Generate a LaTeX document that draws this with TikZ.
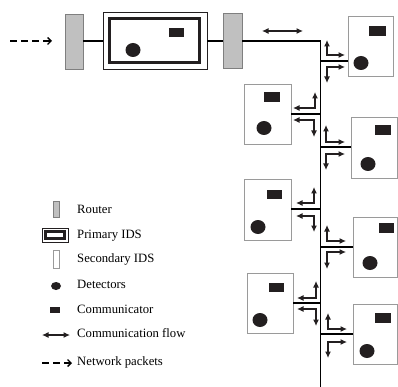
\documentclass[tikz,border=0pt]{standalone}
\usepackage{fontspec}
\setmainfont{Liberation Serif}
\usetikzlibrary{arrows.meta}
\definecolor{rgray}{HTML}{C0C0C0}
\definecolor{rborder}{HTML}{7F7F7F}
\definecolor{sborder}{HTML}{9A9A9A}
\definecolor{ink}{HTML}{231F20}
\tikzset{
  box/.style={rectangle, inner sep=0pt, outer sep=0pt},
  router/.style={box, draw=rborder, fill=rgray, line width=0.9pt},
  sids/.style={box, draw=sborder, fill=white, line width=0.9pt},
  pouter/.style={box, draw=ink, line width=0.8pt},
  pinner/.style={box, draw=ink, line width=3pt},
  comm/.style={box, fill=ink},
  det/.style={ellipse, fill=ink, inner sep=0pt, outer sep=0pt},
  wire/.style={draw=black, line width=1.1pt},
  larrow/.style={draw=ink, line width=1.1pt, {Latex[length=6.5pt,width=6pt]}-{Latex[length=6.5pt,width=6pt]}},
  packet/.style={draw=black, line width=1.5pt, dash pattern=on 6.5pt off 4.5pt, -{Straight Barb[length=3.5pt,width=7pt,line width=1.3pt]}},
  lab/.style={anchor=mid west, inner sep=0pt, font=\fontsize{12.7}{14}\selectfont},
}
\usetikzlibrary{shapes.geometric}
\begin{document}
\begin{tikzpicture}[x=1pt,y=-1pt]
\useasboundingbox (0,0) rectangle (398,387);
% top chain
\coordinate (pin) at (10,41);
\coordinate (pend) at (52,41);
\draw[packet] (pin) -- (pend);
\node[router, minimum width=18pt, minimum height=55pt] (r1) at (74,41.5) {};
\node[pouter, minimum width=104pt, minimum height=57pt] (pids) at (155,40.5) {};
\node[pinner, minimum width=90pt, minimum height=44pt] (pidsin) at (154.5,40.5) {};
\node[comm, minimum width=15pt, minimum height=9pt] (pc) at (176.5,32.5) {};
\node[det, minimum width=15pt, minimum height=14pt] (pd) at (133,50) {};
\node[router, minimum width=19pt, minimum height=55pt] (r2) at (232.5,40.5) {};
\coordinate (bustop) at (320.5,41);
\coordinate (busbot) at (320.5,387);
\draw[wire] (r1.east |- pin) -- (pids.west |- pin);
\draw[wire] (pids.east |- pin) -- (r2.west |- pin);
\draw[wire] (r2.east |- bustop) -- (bustop) -- (busbot);
\coordinate (fa) at (262,31);
\coordinate (fb) at (303,31);
\draw[larrow] (fa) -- (fb);
% secondary IDS boxes
\node[sids, minimum width=45pt, minimum height=60pt] (s1) at (370.5,46) {};
\node[comm, minimum width=17pt, minimum height=10pt] (c1) at (377.5,31) {};
\node[det, minimum width=15pt, minimum height=14pt] (d1) at (361,63) {};
\node[sids, minimum width=47pt, minimum height=60pt] (s2) at (267.5,114) {};
\node[comm, minimum width=16pt, minimum height=10pt] (c2) at (272,97) {};
\node[det, minimum width=15pt, minimum height=14pt] (d2) at (264,128) {};
\node[sids, minimum width=46pt, minimum height=61pt] (s3) at (374,147.5) {};
\node[comm, minimum width=16pt, minimum height=10pt] (c3) at (383,130) {};
\node[det, minimum width=15pt, minimum height=14pt] (d3) at (368,164) {};
\node[sids, minimum width=47pt, minimum height=61pt] (s4) at (267.5,209.5) {};
\node[comm, minimum width=15pt, minimum height=9pt] (c4) at (274.5,194.5) {};
\node[det, minimum width=15pt, minimum height=14pt] (d4) at (258,227) {};
\node[sids, minimum width=44pt, minimum height=60pt] (s5) at (375,247) {};
\node[comm, minimum width=15pt, minimum height=10pt] (c5) at (386.5,228) {};
\node[det, minimum width=15pt, minimum height=14pt] (d5) at (370,263) {};
\node[sids, minimum width=46pt, minimum height=60pt] (s6) at (270,303) {};
\node[comm, minimum width=15pt, minimum height=9pt] (c6) at (276.5,287.5) {};
\node[det, minimum width=15pt, minimum height=14pt] (d6) at (260,320) {};
\node[sids, minimum width=44pt, minimum height=60pt] (s7) at (375,334) {};
\node[comm, minimum width=16pt, minimum height=10pt] (c7) at (383,318) {};
\node[det, minimum width=15pt, minimum height=14pt] (d7) at (367,351) {};
% taps to bus
\coordinate (h1) at (0,61);
\coordinate (h2) at (0,114);
\coordinate (h3) at (0,147);
\coordinate (h4) at (0,209);
\coordinate (h5) at (0,247);
\coordinate (h6) at (0,303);
\coordinate (h7) at (0,334);
\draw[wire] (s1.west |- h1) -- (bustop |- h1);
\draw[wire] (s2.east |- h2) -- (bustop |- h2);
\draw[wire] (s3.west |- h3) -- (bustop |- h3);
\draw[wire] (s4.east |- h4) -- (bustop |- h4);
\draw[wire] (s5.west |- h5) -- (bustop |- h5);
\draw[wire] (s6.east |- h6) -- (bustop |- h6);
\draw[wire] (s7.west |- h7) -- (bustop |- h7);
% L-shaped flow arrows
\draw[larrow] (327,40) -- (327,55) -- (345,55);
\draw[larrow] (345,67) -- (327,67) -- (327,83);
\draw[larrow] (315,92) -- (315,108) -- (293,108);
\draw[larrow] (293,120) -- (314,120) -- (314,137);
\draw[larrow] (326,125) -- (326,142) -- (345,142);
\draw[larrow] (345,154) -- (326,154) -- (326,170);
\draw[larrow] (314,187) -- (314,203) -- (296,203);
\draw[larrow] (296,216) -- (314,216) -- (314,232);
\draw[larrow] (327,225) -- (327,241) -- (346,241);
\draw[larrow] (346,252) -- (327,252) -- (327,269);
\draw[larrow] (316,281) -- (316,298) -- (297,298);
\draw[larrow] (297,309) -- (316,309) -- (316,326);
\draw[larrow] (328,313) -- (328,329) -- (347,329);
\draw[larrow] (347,342) -- (328,342) -- (328,358);
% legend
\node[router, minimum width=6pt, minimum height=16pt] (lr) at (56,209) {};
\node[lab] (lrt) at (77,211) {Router};
\node[pouter, minimum width=26pt, minimum height=14pt] (lp) at (55,235) {};
\node[pinner, minimum width=19pt, minimum height=7pt, line width=2.2pt] (lpi) at (55,235) {};
\node[lab] (lpt) at (77,236) {Primary IDS};
\node[sids, minimum width=6pt, minimum height=18pt] (ls) at (56,259) {};
\node[lab] (lst) at (77,260) {Secondary IDS};
\node[det, minimum width=10pt, minimum height=8pt] (ld) at (56,286) {};
\node[lab] (ldt) at (77,286) {Detectors};
\node[comm, minimum width=10pt, minimum height=6.5pt] (lc) at (55,310) {};
\node[lab] (lct) at (77,311) {Communicator};
\coordinate (lfa) at (42,335);
\coordinate (lfb) at (70,335);
\draw[larrow] (lfa) -- (lfb);
\node[lab] (lft) at (77,335) {Communication flow};
\coordinate (lna) at (42,363);
\coordinate (lnb) at (72,363);
\draw[packet] (lna) -- (lnb);
\node[lab] (lnt) at (77,363) {Network packets};
\end{tikzpicture}
\end{document}
